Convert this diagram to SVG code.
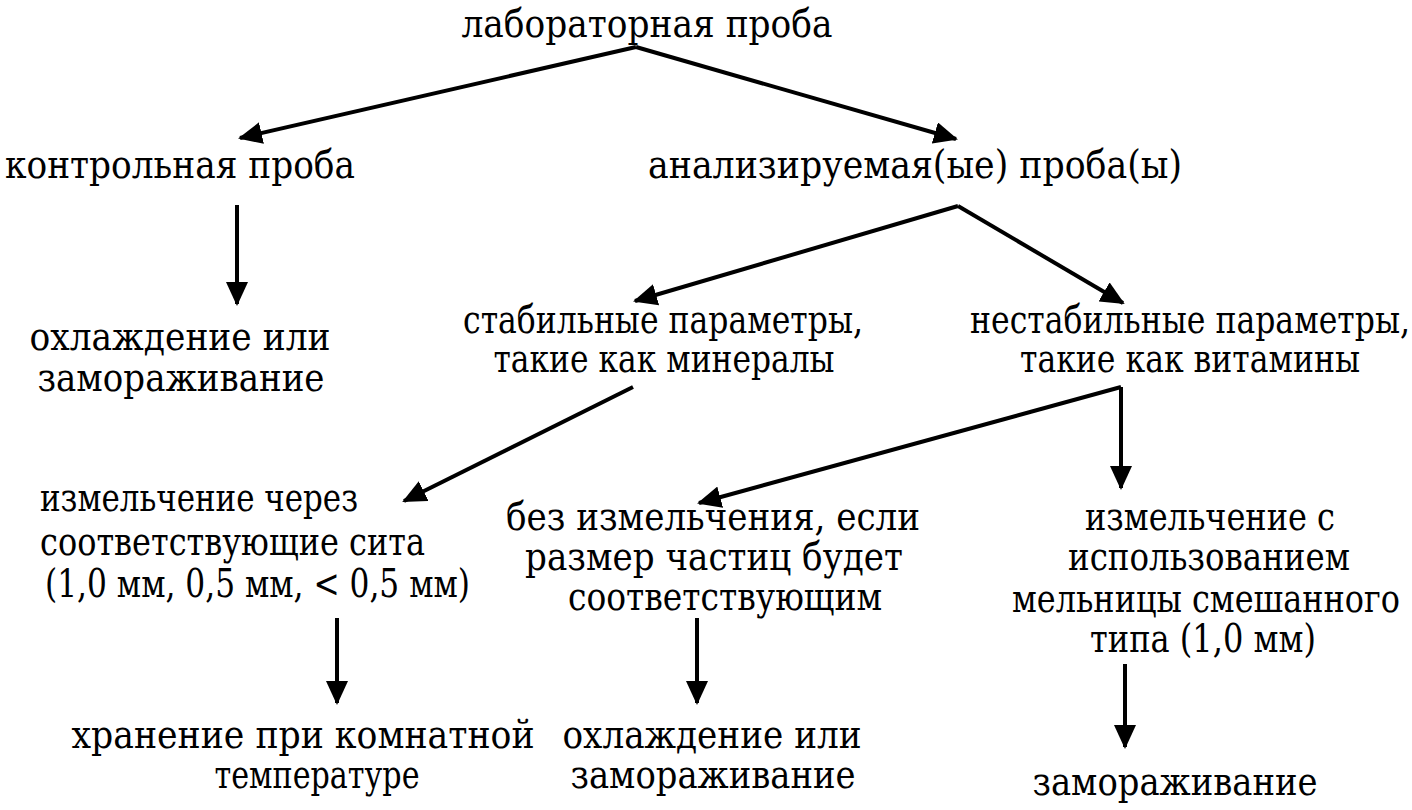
<svg xmlns="http://www.w3.org/2000/svg" width="1412" height="810" viewBox="0 0 1412 810">
<style>
text{font-family:"DejaVu Serif","Liberation Serif",serif;font-size:39px;fill:#000}
.c{text-anchor:middle}
.e line{stroke:#000;stroke-width:4;marker-end:url(#ah)}
</style>
<defs>
<marker id="ah" markerUnits="userSpaceOnUse" markerWidth="24" markerHeight="22" refX="22" refY="11" orient="auto" viewBox="0 0 24 22">
<path d="M0,0 L24,11 L0,22 Z" fill="#000"/>
</marker>
</defs>
<rect width="1412" height="810" fill="#fff"/>
<g id="connectors" class="e">
<line x1="636" y1="47" x2="240" y2="138"/>
<line x1="636" y1="47" x2="956" y2="139"/>
<line x1="237" y1="205" x2="237" y2="304"/>
<line x1="958" y1="206" x2="635" y2="301"/>
<line x1="958" y1="206" x2="1123" y2="303"/>
<line x1="633" y1="387" x2="404" y2="501"/>
<line x1="1121" y1="387" x2="699" y2="503"/>
<line x1="1121" y1="387" x2="1121" y2="488"/>
<line x1="337" y1="618" x2="337" y2="703"/>
<line x1="697" y1="618" x2="697" y2="703"/>
<line x1="1125" y1="664" x2="1125" y2="747"/>
</g>
<g id="n-lab"><text class="c" x="647" y="37" textLength="371" lengthAdjust="spacingAndGlyphs">лабораторная проба</text></g>
<g id="n-control"><text class="c" x="180" y="178" textLength="350" lengthAdjust="spacingAndGlyphs">контрольная проба</text></g>
<g id="n-analyzed"><text class="c" x="915" y="178" textLength="534" lengthAdjust="spacingAndGlyphs">анализируемая(ые) проба(ы)</text></g>
<g id="n-cool1"><text class="c" x="180" y="350" textLength="301" lengthAdjust="spacingAndGlyphs">охлаждение или</text><text class="c" x="181" y="391" textLength="287" lengthAdjust="spacingAndGlyphs">замораживание</text></g>
<g id="n-stable"><text class="c" x="663" y="333" textLength="400" lengthAdjust="spacingAndGlyphs">стабильные параметры,</text><text class="c" x="664" y="372" textLength="341" lengthAdjust="spacingAndGlyphs">такие как минералы</text></g>
<g id="n-unstable"><text class="c" x="1190" y="333" textLength="440" lengthAdjust="spacingAndGlyphs">нестабильные параметры,</text><text class="c" x="1190" y="372" textLength="340" lengthAdjust="spacingAndGlyphs">такие как витамины</text></g>
<g id="n-sieve"><text x="40" y="511" textLength="318" lengthAdjust="spacingAndGlyphs">измельчение через</text><text x="40" y="555" textLength="385" lengthAdjust="spacingAndGlyphs">соответствующие сита</text><text x="45" y="597" textLength="425" lengthAdjust="spacingAndGlyphs">(1,0 мм, 0,5 мм, &lt; 0,5 мм)</text></g>
<g id="n-nogrind"><text class="c" x="713" y="530" textLength="414" lengthAdjust="spacingAndGlyphs">без измельчения, если</text><text class="c" x="714" y="570" textLength="378" lengthAdjust="spacingAndGlyphs">размер частиц будет</text><text class="c" x="725" y="610" textLength="314" lengthAdjust="spacingAndGlyphs">соответствующим</text></g>
<g id="n-mill"><text class="c" x="1210" y="530" textLength="250" lengthAdjust="spacingAndGlyphs">измельчение с</text><text class="c" x="1209" y="570" textLength="282" lengthAdjust="spacingAndGlyphs">использованием</text><text class="c" x="1206" y="612" textLength="388" lengthAdjust="spacingAndGlyphs">мельницы смешанного</text><text class="c" x="1203" y="652" textLength="226" lengthAdjust="spacingAndGlyphs">типа (1,0 мм)</text></g>
<g id="n-room"><text class="c" x="303" y="748" textLength="463" lengthAdjust="spacingAndGlyphs">хранение при комнатной</text><text class="c" x="317" y="788" textLength="205" lengthAdjust="spacingAndGlyphs">температуре</text></g>
<g id="n-cool2"><text class="c" x="712" y="748" textLength="299" lengthAdjust="spacingAndGlyphs">охлаждение или</text><text class="c" x="713" y="788" textLength="285" lengthAdjust="spacingAndGlyphs">замораживание</text></g>
<g id="n-freeze"><text class="c" x="1175" y="795" textLength="285" lengthAdjust="spacingAndGlyphs">замораживание</text></g>
</svg>
